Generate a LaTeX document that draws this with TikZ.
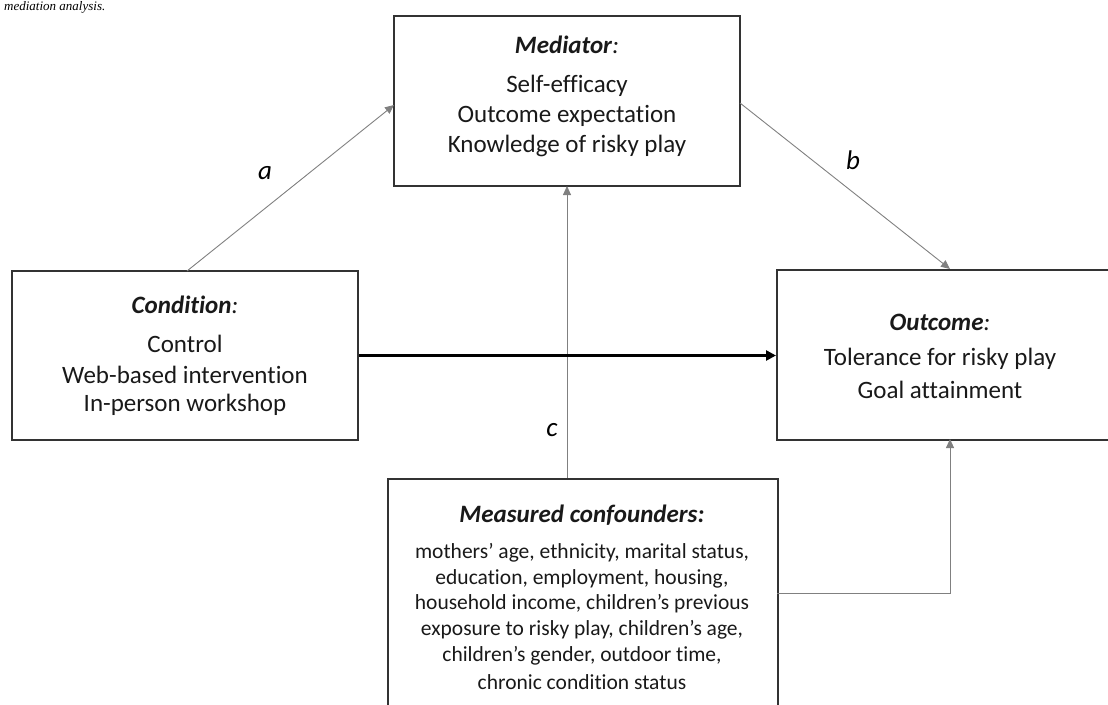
\documentclass[tikz,border=0pt]{standalone}
\usepackage{fontspec}
\setmainfont{Carlito}[Ligatures=NoCommon]
\newfontfamily\serifcap{Liberation Serif}
\usetikzlibrary{arrows.meta}
\begin{document}
\begin{tikzpicture}[x=1pt,y=-1pt,
  boxframe/.style={draw=black!80, line width=1.6pt},
  txt/.style={inner sep=0pt, font=\fontsize{25}{25}\selectfont, text=black!90},
  smalltxt/.style={inner sep=0pt, font=\fontsize{21.5}{21.5}\selectfont, text=black!90},
  thinarrow/.style={draw=black!50, line width=0.9pt, -{Triangle[length=9pt,width=8pt]}},
  thickarrow/.style={draw=black, line width=2.6pt, -{Triangle[length=10pt,width=10pt]}},
  pathlabel/.style={inner sep=0pt, font=\fontsize{27}{27}\selectfont\itshape}
]
\useasboundingbox (0,0) rectangle (1108,704);
% caption fragment at top
\node[inner sep=0pt, anchor=north west, font=\serifcap\fontsize{13}{13}\selectfont\itshape] (cap) at (4,1) {mediation analysis.};
% boxes
\node[boxframe, minimum width=346pt, minimum height=170pt] (med) at (567,101) {};
\node[boxframe, minimum width=346pt, minimum height=169pt] (cond) at (185,355.5) {};
\node[boxframe, minimum width=336pt, minimum height=170pt, anchor=north west] (out) at (776,269) {};
\node[boxframe, minimum width=390pt, minimum height=260pt, anchor=north west] (conf) at (387,478) {};
% mediator text
\node[txt] (medt) at (567,45) {\textbf{\textit{Mediator}}\textit{:}};
\node[txt] (med1) at (567,86) {Self-efficacy};
\node[txt] (med2) at (567,116) {Outcome expectation};
\node[txt] (med3) at (567,146) {Knowledge of risky play};
% condition text
\node[txt] (condt) at (185,305) {\textbf{\textit{Condition}}\textit{:}};
\node[txt] (cond1) at (185,344) {Control};
\node[txt] (cond2) at (185,375) {Web-based intervention};
\node[txt] (cond3) at (185,405) {In-person workshop};
% outcome text
\node[txt] (outt) at (940,322) {\textbf{\textit{Outcome}}\textit{:}};
\node[txt] (out1) at (940,359) {Tolerance for risky play};
\node[txt] (out2) at (940,390) {Goal attainment};
% confounders text
\node[txt] (conft) at (582,515) {\textbf{\textit{Measured confounders:}}};
\node[smalltxt] (c1) at (582,553) {mothers’ age, ethnicity, marital status,};
\node[smalltxt] (c2) at (582,579) {education, employment, housing,};
\node[smalltxt] (c3) at (582,604) {household income, children’s previous};
\node[smalltxt] (c4) at (582,630) {exposure to risky play, children’s age,};
\node[smalltxt] (c5) at (582,656) {children’s gender, outdoor time,};
\node[smalltxt] (c6) at (582,682) {chronic condition status};
% connector anchors
\coordinate (aS) at (187,271);
\coordinate (aE) at (394,105);
\coordinate (bS) at (740,103);
\coordinate (bE) at (950,269);
\coordinate (cS) at (567,478);
\coordinate (cE) at (567,186);
\coordinate (dS) at (777,593);
\coordinate (dM) at (950,593);
\coordinate (dE) at (950,439);
% connectors
\draw[thinarrow] (aS) -- (aE);
\draw[thinarrow] (bS) -- (bE);
\draw[thinarrow] (cS) -- (cE);
\draw[thinarrow] (dS) -- (dM) -- (dE);
\draw[thickarrow] (cond.east) -- (out.west |- cond.east);
% labels
\node[pathlabel] (la) at (265,173) {a};
\node[pathlabel] (lb) at (853,160) {b};
\node[pathlabel] (lc) at (552,430) {c};
\end{tikzpicture}
\end{document}
